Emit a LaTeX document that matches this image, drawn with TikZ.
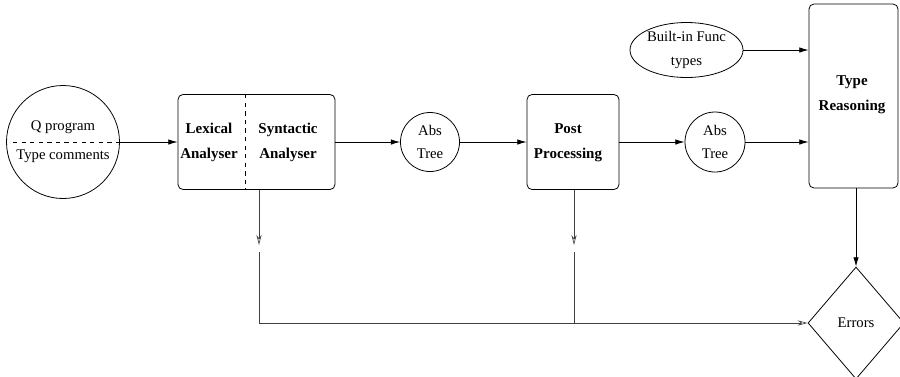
\documentclass[tikz,border=0pt]{standalone}
\usepackage{fontspec}
\setmainfont{Liberation Serif}
\usetikzlibrary{arrows.meta, positioning, shapes.geometric}
\newdimen\px
\px=0.7pt

\begin{document}
\begin{tikzpicture}[
    x=0.7pt, y=-0.7pt,
    font=\fontsize{10.3}{16.5}\selectfont,
    procbox/.style={
        rectangle,
        rounded corners=3.5pt,
        draw=black,
        line width=0.55pt,
        inner sep=0pt
    },
    boxtext/.style={
        align=center,
        font=\fontsize{10.5}{17.5}\selectfont\bfseries
    },
    datacirc/.style={
        circle,
        draw=black,
        line width=0.55pt,
        inner sep=0pt,
        align=center
    },
    flow/.style={-{Latex[length=6.5pt, width=3.8pt]}, line width=0.55pt},
    errline/.style={line width=0.45pt, black!75},
    errflow/.style={errline, -{Stealth[length=7pt, width=3.6pt, open]}}
]
    \useasboundingbox (0,0) rectangle (900,376);

    % Input program with type comments
    \node[datacirc, minimum size=113\px] (prog) at (63,142) {};
    \node (progtop) at (63,127) {Q program};
    \node (progbot) at (63,156) {Type comments};
    \draw[dashed, line width=0.5pt] (13,142) -- (prog.east);

    % Lexical / syntactic analyser
    \node[procbox, minimum width=157\px, minimum height=95\px] (lexsyn) at (256.5,142) {};
    \coordinate (divx) at (245,0);
    \draw[dashed, line width=0.5pt] (divx |- lexsyn.north) -- (divx |- lexsyn.south);
    \node[boxtext] (lextext) at (209,142) {Lexical\\Analyser};
    \node[boxtext] (syntext) at (288,142) {Syntactic\\Analyser};

    % Abstract trees and post processing
    \node[datacirc, minimum size=59\px] (abs1) at (430,142) {Abs\\Tree};
    \node[procbox, minimum width=92\px, minimum height=95\px] (post) at (573,142) {};
    \node[boxtext] (posttext) at (568,143) {Post\\Processing};
    \node[datacirc, minimum size=60\px] (abs2) at (715,142) {Abs\\Tree};

    % Type reasoning
    \node[procbox, minimum width=89\px, minimum height=184\px] (typer) at (853.5,96) {};
    \node[boxtext] (typetext) at (852,95) {Type\\Reasoning};
    \node[ellipse, draw=black, line width=0.55pt, inner sep=0pt, align=center,
        minimum width=113\px, minimum height=55\px] (builtin) at (686.5,50) {Built-in Func\\types};

    \node[diamond, draw=black, line width=0.55pt, inner sep=0pt,
        minimum width=96\px, minimum height=112\px] (errors) at (856,323) {Errors};

    % Main flow
    \draw[flow] (prog.east) -- (lexsyn.west);
    \draw[flow] (lexsyn.east) -- (abs1.west);
    \draw[flow] (abs1.east) -- (post.west);
    \draw[flow] (post.east) -- (abs2.west);
    \draw[flow] (abs2.east) -- (abs2.east -| typer.west);
    \draw[flow] (builtin.east) -- (builtin.east -| typer.west);
    \draw[flow] (errors.north |- typer.south) -- (errors.north);

    % Error paths
    \coordinate (lexdown) at (259,245);
    \coordinate (lexjoin) at (259,323);
    \coordinate (postdown) at (574,245);
    \coordinate (postjoin) at (574,323);
    \draw[errflow] (lexdown |- lexsyn.south) -- (lexdown);
    \draw[errflow] (postdown |- post.south) -- (postdown);
    \draw[errline] ([yshift=-4.9pt]lexdown) -- (lexjoin);
    \draw[errline] ([yshift=-4.9pt]postdown) -- (postjoin);
    \draw[errflow] (lexjoin) -- (errors.west);
\end{tikzpicture}
\end{document}
